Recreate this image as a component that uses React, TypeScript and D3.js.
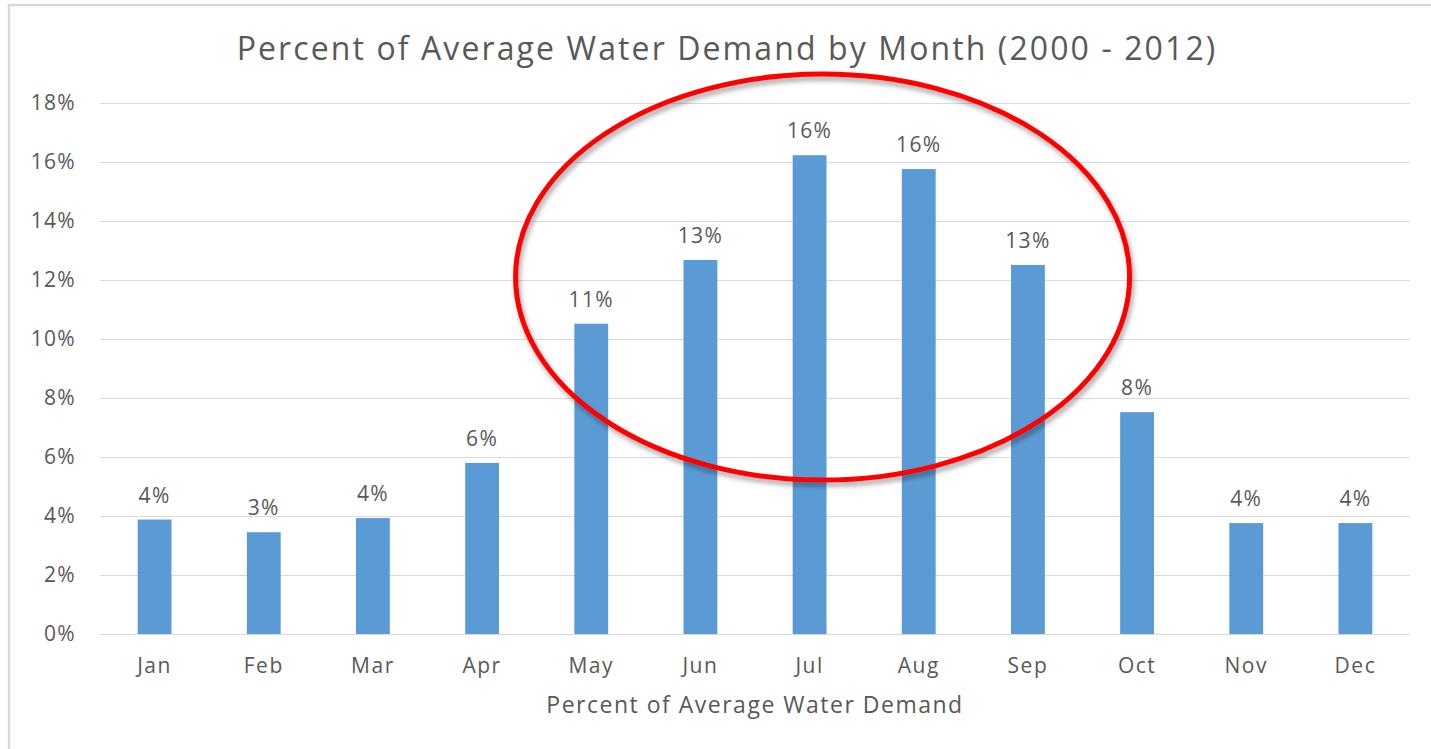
import React from 'react';
import * as d3 from 'd3';

const months = ['Jan', 'Feb', 'Mar', 'Apr', 'May', 'Jun', 'Jul', 'Aug', 'Sep', 'Oct', 'Nov', 'Dec'];
const demand = [3.88, 3.45, 3.93, 5.8, 10.52, 12.68, 16.23, 15.76, 12.51, 7.52, 3.76, 3.76];
const yTicks = [0, 2, 4, 6, 8, 10, 12, 14, 16, 18];

const title = 'Percent of Average Water Demand by Month (2000 - 2012)';
const axisTitle = 'Percent of Average Water Demand';

const W = 1431;
const H = 749;
const FONT = '"Open Sans", "Noto Sans", sans-serif';
const GRAY = '#595959';

const App = () => {
  const ref = React.useRef(null);

  React.useEffect(() => {
    const svg = d3.select(ref.current);
    svg.selectAll('*').remove();

    const margin = { top: 103, right: 21, bottom: 115, left: 100 };
    const width = W - margin.left - margin.right;
    const height = H - margin.top - margin.bottom;

    const defs = svg.append('defs');
    const f = defs
      .append('filter')
      .attr('id', 'shadow')
      .attr('x', '-10%')
      .attr('y', '-10%')
      .attr('width', '120%')
      .attr('height', '120%');
    f.append('feDropShadow')
      .attr('dx', 2)
      .attr('dy', 4)
      .attr('stdDeviation', 2.5)
      .attr('flood-color', '#000')
      .attr('flood-opacity', 0.35);

    svg.append('rect').attr('width', W).attr('height', H).attr('fill', '#fff');

    // chart border (cut off at the right and bottom)
    svg
      .append('rect')
      .attr('x', 9)
      .attr('y', 5)
      .attr('width', W + 20)
      .attr('height', H + 20)
      .attr('fill', 'none')
      .attr('stroke', '#d9d9d9')
      .attr('stroke-width', 2.5);

    svg
      .append('text')
      .attr('x', 727)
      .attr('y', 60)
      .attr('text-anchor', 'middle')
      .attr('font-family', FONT)
      .attr('font-size', 32)
      .attr('letter-spacing', 2.1)
      .attr('fill', GRAY)
      .text(title);

    const g = svg.append('g').attr('transform', `translate(${margin.left},${margin.top})`);

    const x = d3.scaleBand().domain(months).range([0, width]).paddingInner(0.69).paddingOuter(0.345);
    const y = d3.scaleLinear().domain([0, 18]).range([height, 0]);

    g.append('g')
      .selectAll('line')
      .data(yTicks)
      .join('line')
      .attr('x1', 0)
      .attr('x2', width)
      .attr('y1', (d) => y(d) + 0.5)
      .attr('y2', (d) => y(d) + 0.5)
      .attr('stroke', '#d9d9d9')
      .attr('stroke-width', 1.2);

    g.append('g')
      .selectAll('text')
      .data(yTicks)
      .join('text')
      .attr('x', -24)
      .attr('y', (d) => y(d) + 7)
      .attr('text-anchor', 'end')
      .attr('font-family', FONT)
      .attr('font-size', 21)
      .attr('letter-spacing', 1.3)
      .attr('fill', GRAY)
      .text((d) => `${d}%`);

    g.append('g')
      .selectAll('rect')
      .data(demand)
      .join('rect')
      .attr('x', (d, i) => x(months[i]))
      .attr('y', (d) => y(d))
      .attr('width', x.bandwidth())
      .attr('height', (d) => height - y(d))
      .attr('fill', '#5b9bd5');

    g.append('g')
      .selectAll('text')
      .data(demand)
      .join('text')
      .attr('x', (d, i) => x(months[i]) + x.bandwidth() / 2)
      .attr('y', (d) => y(d) - 17)
      .attr('text-anchor', 'middle')
      .attr('font-family', FONT)
      .attr('font-size', 21)
      .attr('letter-spacing', 1.3)
      .attr('fill', GRAY)
      .text((d) => `${Math.round(d)}%`);

    g.append('g')
      .selectAll('text')
      .data(months)
      .join('text')
      .attr('x', (d) => x(d) + x.bandwidth() / 2)
      .attr('y', height + 39)
      .attr('text-anchor', 'middle')
      .attr('font-family', FONT)
      .attr('font-size', 21)
      .attr('letter-spacing', 1.5)
      .attr('fill', GRAY)
      .text((d) => d);

    g.append('text')
      .attr('x', width / 2)
      .attr('y', height + 79)
      .attr('text-anchor', 'middle')
      .attr('font-family', FONT)
      .attr('font-size', 23)
      .attr('letter-spacing', 1.5)
      .attr('fill', GRAY)
      .text(axisTitle);

    // highlight ellipse around the summer months
    const cx = x('Jul') + x.bandwidth() / 2 + 13;
    g.append('ellipse')
      .attr('cx', cx)
      .attr('cy', y(12.1))
      .attr('rx', 307)
      .attr('ry', 203)
      .attr('fill', 'none')
      .attr('stroke', '#ff0000')
      .attr('stroke-width', 5)
      .attr('filter', 'url(#shadow)');
  }, []);

  return (
    <svg
      ref={ref}
      width={W}
      height={H}
      style={{ position: 'absolute', left: 0, top: 0, display: 'block' }}
    ></svg>
  );
};

export default App;
